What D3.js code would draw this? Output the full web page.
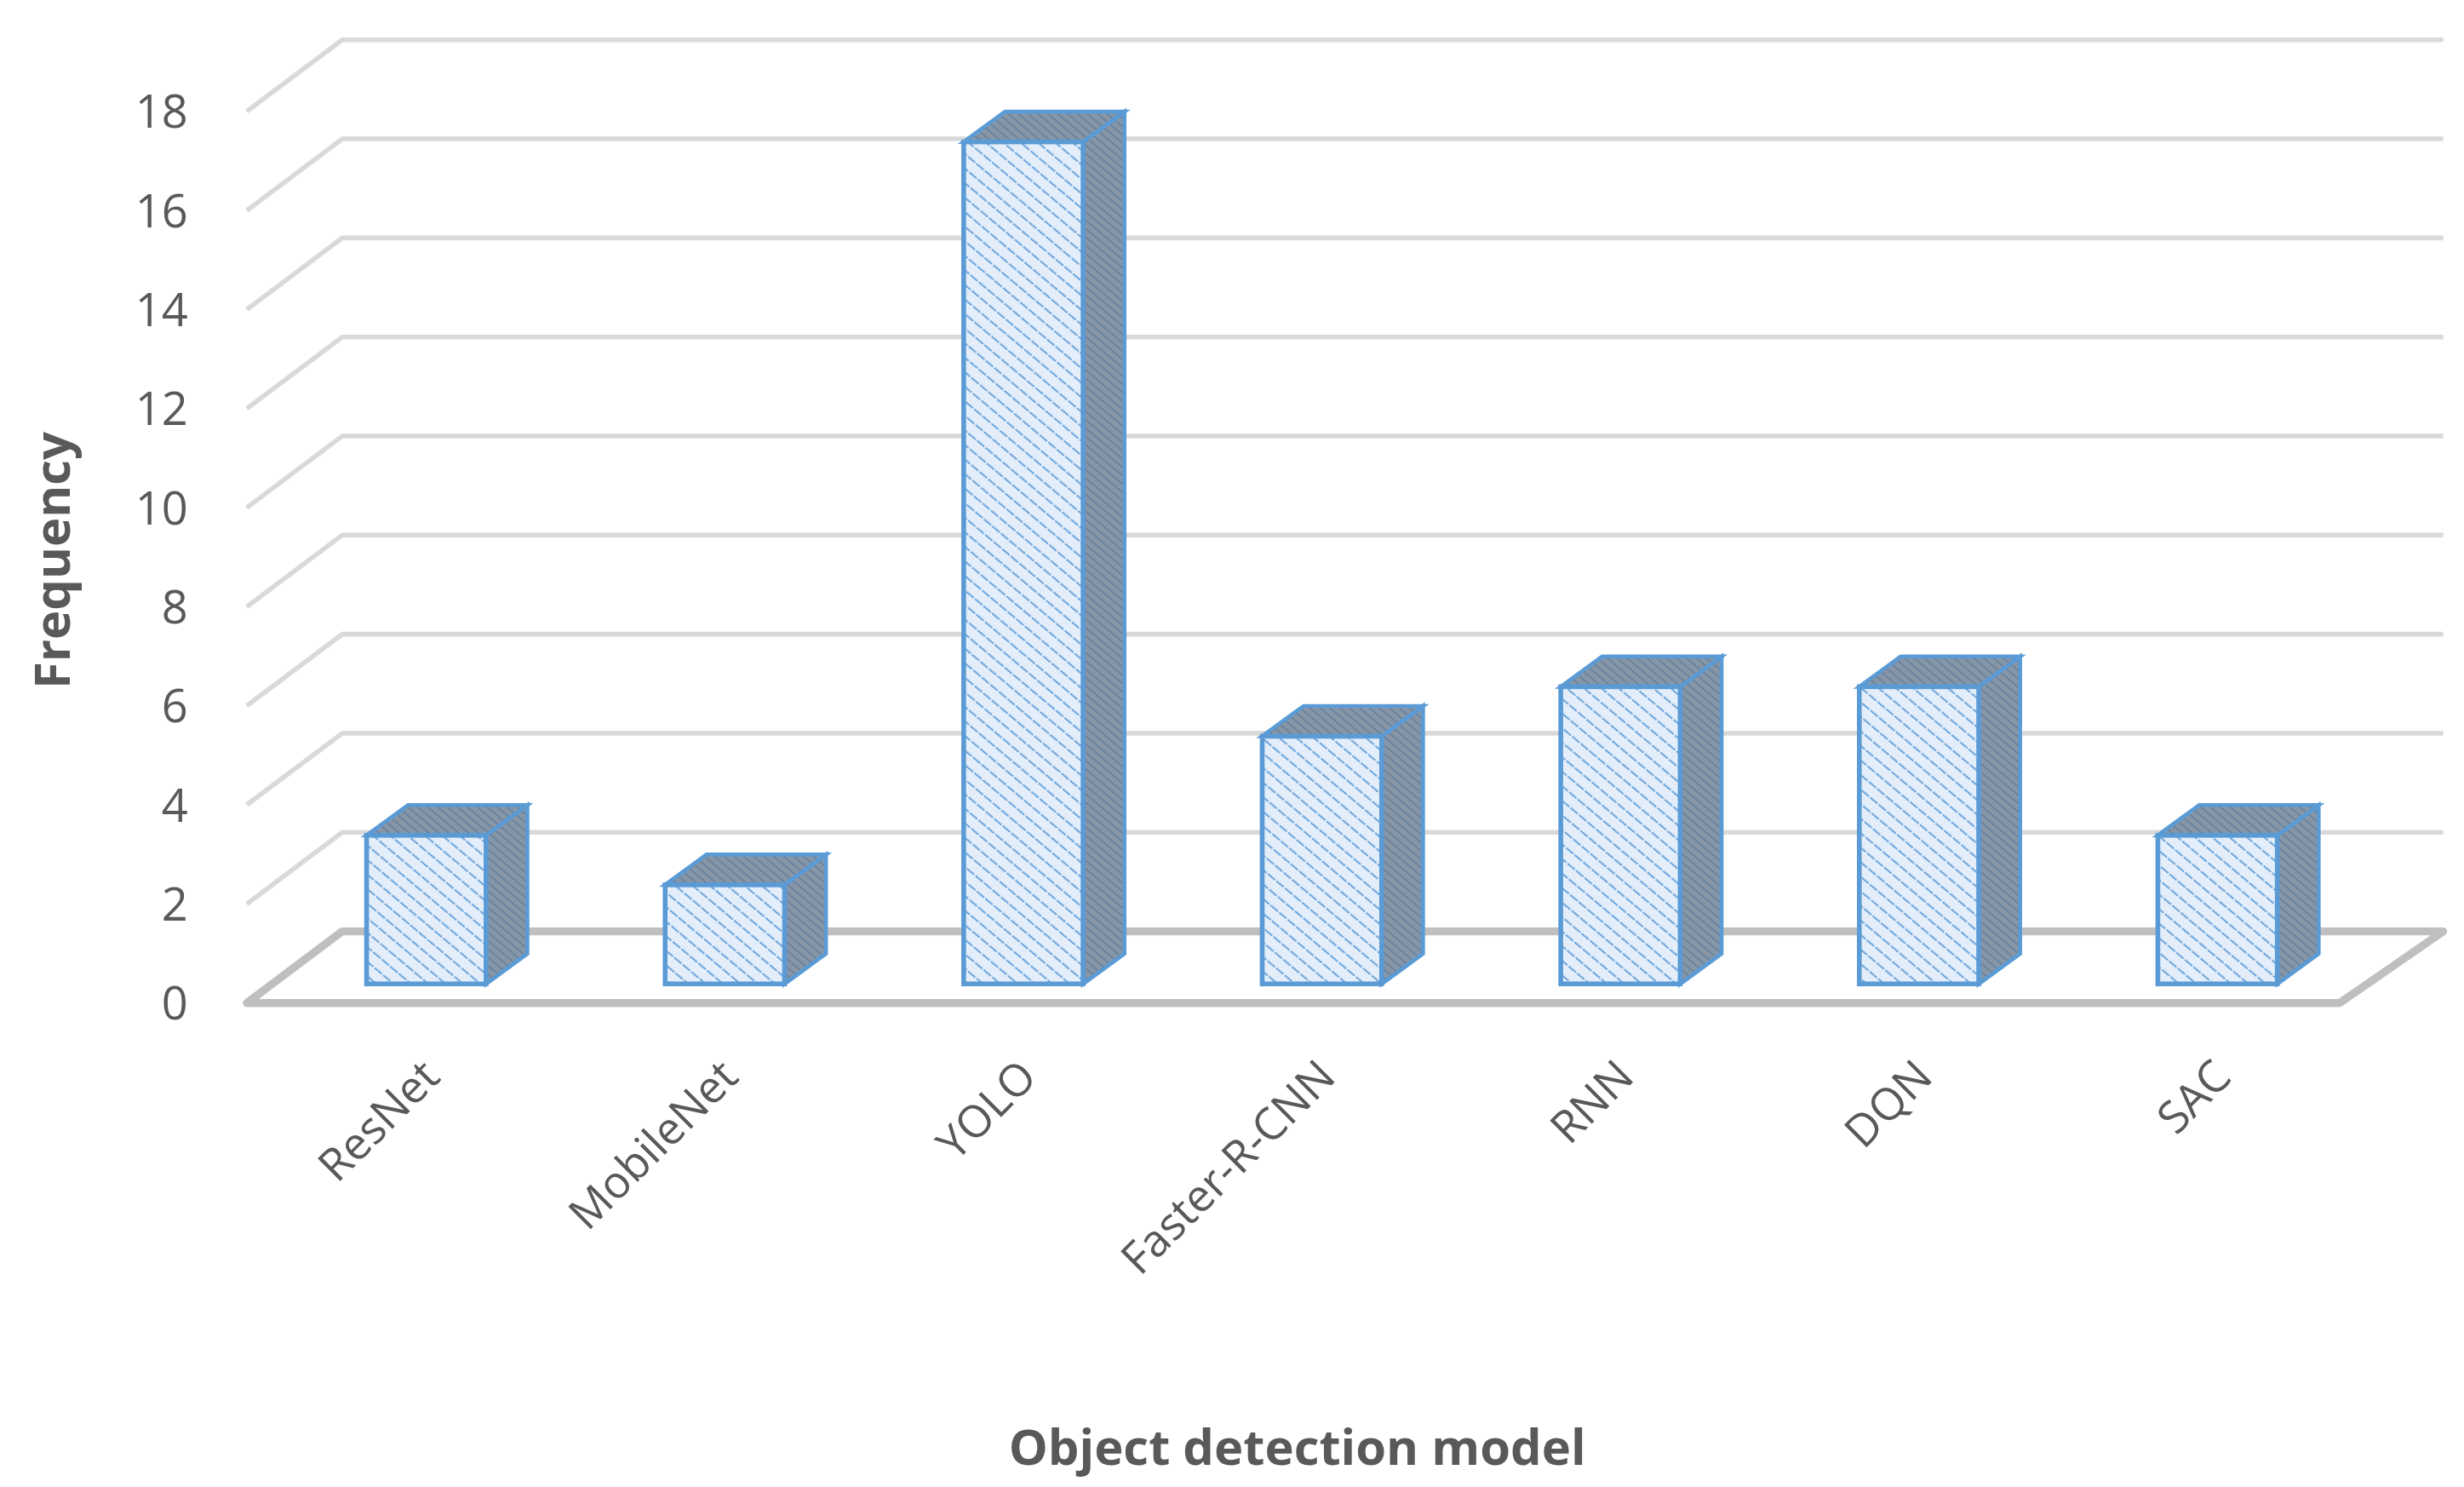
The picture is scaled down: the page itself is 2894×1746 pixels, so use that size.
<!DOCTYPE html>
<html>
<head>
<script src="https://d3js.org/d3.v7.min.js"></script>
<style>
  body { margin: 0; background: #fff; }
  svg { display: block; }
</style>
</head>
<body>
<svg id="chart" width="2894" height="1746" viewBox="0 0 1548 934"></svg>
<script>
// data
var models = ["ResNet", "MobileNet", "YOLO", "Faster-R-CNN", "RNN", "DQN", "SAC"];
var frequency = [3, 2, 17, 5, 6, 6, 3];
var yTicks = [0, 2, 4, 6, 8, 10, 12, 14, 16, 18];

var svg = d3.select("#chart");
var grey = "#595959";
var depthX = 60, depthY = -45;   // wall depth
var barDX = 26, barDY = -19;     // bar depth

var x = d3.scaleBand().domain(models).range([174, 1487]).paddingInner(0.6).paddingOuter(0.3);
var yFront = d3.scaleLinear().domain([0, 18]).range([630, 70]);
var yBar = d3.scaleLinear().domain([0, 18]).range([618, 58]);

var defs = svg.append("defs");
var pf = defs.append("pattern").attr("id", "hatch").attr("patternUnits", "userSpaceOnUse")
  .attr("width", 7).attr("height", 7).attr("patternTransform", "rotate(-50)");
pf.append("rect").attr("width", 7).attr("height", 7).attr("fill", "#e3eefa");
pf.append("line").attr("x1", 0).attr("y1", 0).attr("x2", 0).attr("y2", 7)
  .attr("stroke", "#6fa6dc").attr("stroke-width", 2.2).attr("stroke-dasharray", "3 1");
var ps = defs.append("pattern").attr("id", "hatchDark").attr("patternUnits", "userSpaceOnUse")
  .attr("width", 4).attr("height", 4).attr("patternTransform", "rotate(-50)");
ps.append("rect").attr("width", 4).attr("height", 4).attr("fill", "#8796a6");
ps.append("line").attr("x1", 0).attr("y1", 0).attr("x2", 0).attr("y2", 4)
  .attr("stroke", "#5f7d9c").attr("stroke-width", 1.5);

// gridlines: back wall + left wall diagonals
yTicks.slice(1).forEach(function(t) {
  var yf = yFront(t);
  svg.append("polyline")
    .attr("points", [[155, yf], [155 + depthX, yf + depthY], [1535, yf + depthY]].join(" "))
    .attr("fill", "none").attr("stroke", "#d9d9d9").attr("stroke-width", 3);
});

// floor
svg.append("polygon")
  .attr("points", [[155, 630], [1470, 630], [1535, 585], [215, 585]].join(" "))
  .attr("fill", "#fff").attr("stroke", "#bfbfbf").attr("stroke-width", 5)
  .attr("stroke-linejoin", "round");

// y labels
svg.selectAll(".ytick").data(yTicks).enter().append("text")
  .attr("x", 118).attr("y", function(d) { return yFront(d); })
  .attr("dy", "0.36em").attr("text-anchor", "end")
  .attr("font-family", "Open Sans, Liberation Sans, sans-serif").attr("font-size", 29)
  .attr("fill", grey).text(function(d) { return d; });

// bars
var bars = svg.selectAll(".bar").data(models).enter().append("g");
bars.each(function(m, i) {
  var g = d3.select(this);
  var x0 = x(m), w = x.bandwidth(), yt = yBar(frequency[i]), yb = yBar(0);
  g.append("polygon")
    .attr("points", [[x0 + w, yt], [x0 + w + barDX, yt + barDY], [x0 + w + barDX, yb + barDY], [x0 + w, yb]].join(" "))
    .attr("fill", "url(#hatchDark)").attr("stroke", "#5b9bd5").attr("stroke-width", 2.5);
  g.append("polygon")
    .attr("points", [[x0, yt], [x0 + barDX, yt + barDY], [x0 + w + barDX, yt + barDY], [x0 + w, yt]].join(" "))
    .attr("fill", "url(#hatchDark)").attr("stroke", "#5b9bd5").attr("stroke-width", 2.5);
  g.append("rect").attr("x", x0).attr("y", yt).attr("width", w).attr("height", yb - yt)
    .attr("fill", "url(#hatch)").attr("stroke", "#5b9bd5").attr("stroke-width", 3);
});

// category labels
svg.selectAll(".xlab").data(models).enter().append("text")
  .attr("transform", function(d) { return "translate(" + (x(d) + x.bandwidth() / 2 - 4) + ",664) rotate(-45)"; })
  .attr("text-anchor", "end").attr("dy", "0.7em")
  .attr("font-family", "Open Sans, Liberation Sans, sans-serif").attr("font-size", 28)
  .attr("fill", grey).text(function(d) { return d; });

// axis titles
svg.append("text").attr("x", 815).attr("y", 920).attr("text-anchor", "middle")
  .attr("font-family", "Open Sans, Liberation Sans, sans-serif").attr("font-size", 31)
  .attr("font-weight", "bold").attr("fill", grey).text("Object detection model");
svg.append("text").attr("transform", "translate(44,352) rotate(-90)").attr("text-anchor", "middle")
  .attr("font-family", "Open Sans, Liberation Sans, sans-serif").attr("font-size", 31)
  .attr("font-weight", "bold").attr("fill", grey).text("Frequency");
</script>
</body>
</html>
